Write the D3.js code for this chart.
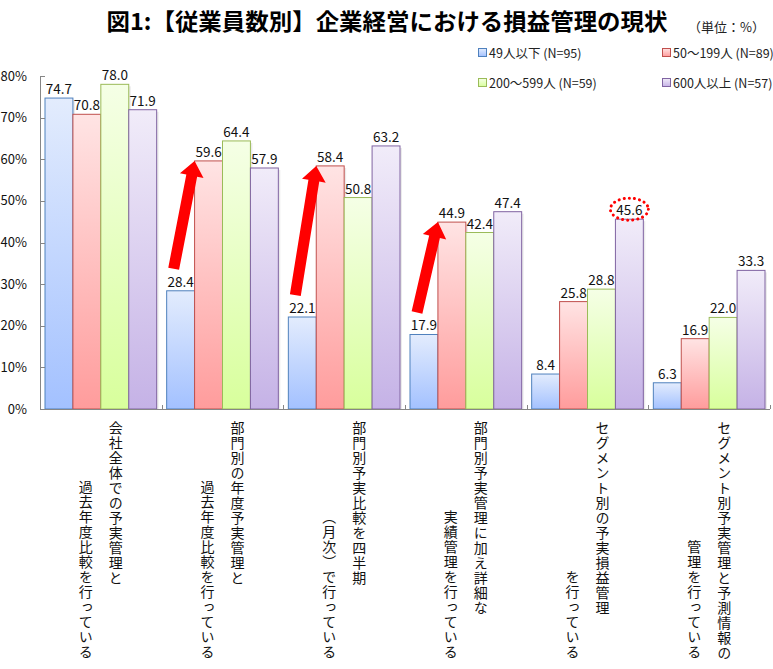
<!DOCTYPE html>
<html><head><meta charset="utf-8">
<script src="https://cdn.jsdelivr.net/npm/d3@7"></script>
<style>
html,body{margin:0;padding:0;background:#fff;}
text{font-family:"Noto Sans CJK JP","Noto Sans",sans-serif;}
</style></head>
<body>
<svg id="c" width="773" height="669"></svg>
<script>
const categoriesLine1 = ["会社全体での予実管理と","部門別の年度予実管理と","部門別予実比較を四半期","部門別予実管理に加え詳細な","セグメント別の予実損益管理","セグメント別予実管理と予測情報の"];
const categoriesLine2 = ["過去年度比較を行っている","過去年度比較を行っている","（月次）で行っている","実績管理を行っている","を行っている","管理を行っている"];
const seriesNames = ["49人以下 (N=95)","50〜199人 (N=89)","200〜599人 (N=59)","600人以上 (N=57)"];
const s49 = [74.7,28.4,22.1,17.9,8.4,6.3];
const s50 = [70.8,59.6,58.4,44.9,25.8,16.9];
const s200 = [78.0,64.4,50.8,42.4,28.8,22.0];
const s600 = [71.9,57.9,63.2,47.4,45.6,33.3];
const yTicks = [0,10,20,30,40,50,60,70,80];
const arrowCats = [1,2,3];
const circledCat = 4;

const seriesValues = [s49,s50,s200,s600];
const topCol = ["#e3ecfd","#ffe4e4","#f5ffe6","#f1ecf9"];
const botCol = ["#a3c1ff","#ff9c9c","#d8ff9c","#c5b2e6"];
const strokeCol = ["#4f81bd","#c0504d","#9bbb59","#8064a2"];

const svg = d3.select("#c");
const defs = svg.append("defs");
seriesValues.forEach((s,i)=>{
  const g = defs.append("linearGradient").attr("id","g"+i).attr("x1",0).attr("y1",0).attr("x2",0).attr("y2",1);
  g.append("stop").attr("offset","0%").attr("stop-color",topCol[i]);
  g.append("stop").attr("offset","100%").attr("stop-color",botCol[i]);
});

const idx = d3.range(categoriesLine1.length);
const x0 = d3.scaleBand().domain(idx).range([40,770]).paddingInner(0).paddingOuter(0);
const x1 = d3.scaleBand().domain(d3.range(4)).range([5, x0.bandwidth()-5]);
const y = d3.scaleLinear().domain([0,80]).range([409,76]);

// title
svg.append("text").attr("x",387).attr("y",30).attr("text-anchor","middle")
  .attr("font-size",23).attr("font-weight",700).attr("textLength",561).attr("lengthAdjust","spacingAndGlyphs")
  .text("図1:【従業員数別】企業経営における損益管理の現状");
svg.append("text").attr("x",765).attr("y",32).attr("text-anchor","end").attr("font-size",13).attr("fill","#222")
  .text("（単位：%）");

// legend
const legPos = [[478,53],[662,53],[478,83],[662,83]];
seriesNames.forEach((n,i)=>{
  const [lx,ly] = legPos[i];
  svg.append("rect").attr("x",lx+0.5).attr("y",ly-4.5).attr("width",8).attr("height",8)
    .attr("fill","url(#g"+i+")").attr("stroke",strokeCol[i]).attr("stroke-width",1);
  svg.append("text").attr("x",lx+11).attr("y",ly+4.5).attr("font-size",12.5).attr("fill","#222").text(n);
});

// bars
const groups = svg.append("g").selectAll("g").data(idx).join("g")
  .attr("transform",d=>`translate(${x0(d)},0)`);
groups.each(function(ci){
  const g = d3.select(this);
  seriesValues.forEach((s,si)=>{
    const v = s[ci];
    g.append("rect").attr("x",x1(si)+2).attr("y",y(v)+2).attr("width",x1.bandwidth()).attr("height",y(0)-y(v)-2)
      .attr("fill","#000").attr("opacity",0.08);
  });
  seriesValues.forEach((s,si)=>{
    const v = s[ci];
    g.append("rect").attr("x",x1(si)).attr("y",y(v)).attr("width",x1.bandwidth()).attr("height",y(0)-y(v))
      .attr("fill","url(#g"+si+")").attr("stroke",strokeCol[si]).attr("stroke-width",1);
  });
  seriesValues.forEach((s,si)=>{
    const v = s[ci];
    g.append("text").attr("x",x1(si)+x1.bandwidth()/2).attr("y",y(v)-4).attr("text-anchor","middle")
      .attr("font-size",13.5).attr("fill","#111").text(v.toFixed(1));
  });
});

// axes
const ax = svg.append("g").attr("stroke","#868686").attr("stroke-width",1).attr("fill","none");
ax.append("line").attr("x1",40.5).attr("x2",40.5).attr("y1",y(80)).attr("y2",y(0)+0.5);
ax.append("line").attr("x1",40).attr("x2",770).attr("y1",y(0)+0.5).attr("y2",y(0)+0.5);
yTicks.forEach(t=>{
  ax.append("line").attr("x1",40).attr("x2",45).attr("y1",Math.round(y(t))+0.5).attr("y2",Math.round(y(t))+0.5);
  svg.append("text").attr("x",27).attr("y",y(t)+4.5).attr("text-anchor","end").attr("font-size",13).attr("fill","#111").text(t+"%");
});
idx.forEach(i=>{
  const bx = Math.round(x0(i)+x0.bandwidth())+0.5;
  ax.append("line").attr("x1",bx).attr("x2",bx).attr("y1",y(0)-4).attr("y2",y(0));
});

// category labels (vertical)
idx.forEach(i=>{
  const cx = x0(i)+x0.bandwidth()/2;
  svg.append("text").attr("x",cx+15).attr("y",421).attr("font-size",14).attr("letter-spacing",1)
    .style("writing-mode","vertical-rl").attr("fill","#111").text(categoriesLine1[i]);
  svg.append("text").attr("x",cx-15).attr("y",660).attr("text-anchor","end").attr("font-size",14).attr("letter-spacing",1)
    .style("writing-mode","vertical-rl").attr("fill","#111").text(categoriesLine2[i]);
});

// red arrows
function arrow(x1p,y1p,x2p,y2p){
  const dx=x2p-x1p, dy=y2p-y1p, L=Math.hypot(dx,dy);
  const ux=dx/L, uy=dy/L, px=-uy, py=ux;
  const sw=5.5, hw=12, hl=15;
  const bx=x2p-ux*hl, by=y2p-uy*hl;
  const pts=[[x1p+px*sw,y1p+py*sw],[bx+px*sw,by+py*sw],[bx+px*hw,by+py*hw],[x2p,y2p],
             [bx-px*hw,by-py*hw],[bx-px*sw,by-py*sw],[x1p-px*sw,y1p-py*sw]];
  svg.append("polygon").attr("points",pts.map(p=>p.join(",")).join(" ")).attr("fill","#ff0000");
}
arrowCats.forEach(ci=>{
  const tx = x0(ci)+x1(0)+7, ty = y(s49[ci])-22;
  const hx = x0(ci)+x1(1), hy = y(s50[ci]);
  arrow(tx,ty,hx,hy);
});

// dotted ellipse
svg.append("ellipse").attr("cx",x0(circledCat)+x1(3)+x1.bandwidth()/2).attr("cy",y(s600[circledCat])-10)
  .attr("rx",19).attr("ry",11).attr("fill","none").attr("stroke","#ff0000").attr("stroke-width",3)
  .attr("stroke-dasharray","0.1 5").attr("stroke-linecap","round");
</script>
</body></html>
